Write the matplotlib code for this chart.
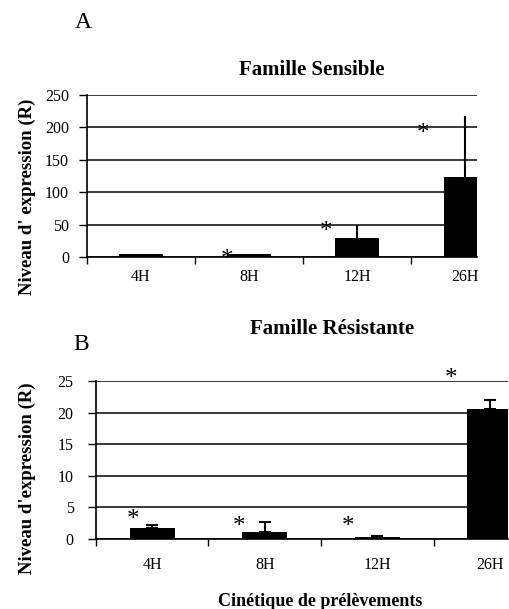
import matplotlib.pyplot as plt
import matplotlib.transforms as mtransforms
import numpy as np

plt.rcParams['font.family'] = ['Liberation Serif', 'DejaVu Serif']

categories = ["4H", "8H", "12H", "26H"]

# Famille Sensible
sens_values = [4, 4, 30, 123]
sens_err = [0, 0, 19, 94]
sens_star_x = [0.80, 1.71, 2.61]
sens_star_y = [6, 48, 200]

# Famille Résistante
res_values = [1.8, 1.05, 0.25, 20.6]
res_err = [0.4, 1.65, 0.15, 1.4]
res_star_x = [-0.17, 0.77, 1.74, 2.65]
res_star_y = [4.1, 3.0, 3.0, 26.4]

fig = plt.figure(figsize=(5.1, 6.09), dpi=100)


def draw_panel(ax, values, err, star_x, star_y, ymax, step, xright, capsize, xpad, ypad):
    x = np.arange(len(categories))
    ax.bar(x, values, width=0.4, color="black", zorder=3)
    ax.errorbar(x, values, yerr=[np.zeros(len(err)), err], fmt="none",
                ecolor="black", elinewidth=1.5, capsize=capsize, capthick=1.5, zorder=3)
    star_tr = mtransforms.offset_copy(ax.transData, fig=fig, y=-9, units="points")
    for sx, sy in zip(star_x, star_y):
        ax.text(sx, sy, "*", fontsize=18, ha="center", va="baseline",
                transform=star_tr, clip_on=False)
    ax.set_ylim(0, ymax)
    ax.set_xlim(-0.5, xright)
    ax.set_yticks(np.arange(0, ymax + 1, step))
    ax.grid(axis="y", color="#2a2a2a", linewidth=1.3, zorder=0)
    ax.set_xticks([-0.5, 0.5, 1.5, 2.5])
    ax.set_xticklabels([])
    ax.set_xticks(x, minor=True)
    ax.set_xticklabels(categories, minor=True)
    ax.tick_params(axis="x", which="minor", length=0, pad=xpad, labelsize=11.5)
    ax.tick_params(axis="x", which="major", length=5, width=1, direction="out")
    ax.tick_params(axis="y", length=6, width=1, labelsize=11.5, pad=ypad)
    for s in ["top", "right"]:
        ax.spines[s].set_visible(False)
    ax.spines["left"].set_linewidth(1.2)
    ax.spines["bottom"].set_linewidth(1.2)


axA = fig.add_axes([0.1706, 0.578, 0.7647, 0.266])
draw_panel(axA, sens_values, sens_err, sens_star_x, sens_star_y, 250, 50, 3.11, 0, 9, 7)
axB = fig.add_axes([0.188, 0.115, 0.808, 0.2594])
draw_panel(axB, res_values, res_err, res_star_x, res_star_y, 25, 5, 3.16, 4, 13, 10)

fig.text(83 / 510, 1 - 22 / 609, "A", fontsize=17, ha="center", va="center")
fig.text(312 / 510, 1 - 70 / 609, "Famille Sensible", fontsize=15, fontweight="bold",
         ha="center", va="center")
fig.text(27 / 510, 1 - 197 / 609, "Niveau d' expression (R)", fontsize=13.5,
         fontweight="bold", rotation=90, ha="center", va="center")

fig.text(81 / 510, 1 - 345 / 609, "B", fontsize=17, ha="center", va="center")
fig.text(332 / 510, 1 - 329 / 609, "Famille Résistante", fontsize=15, fontweight="bold",
         ha="center", va="center")
fig.text(27 / 510, 1 - 478 / 609, "Niveau d'expression (R)", fontsize=13.5,
         fontweight="bold", rotation=90, ha="center", va="center")
fig.text(320 / 510, 1 - 601 / 609, "Cinétique de prélèvements", fontsize=13,
         fontweight="bold", ha="center", va="center")

fig.savefig("out.png", dpi=100)
